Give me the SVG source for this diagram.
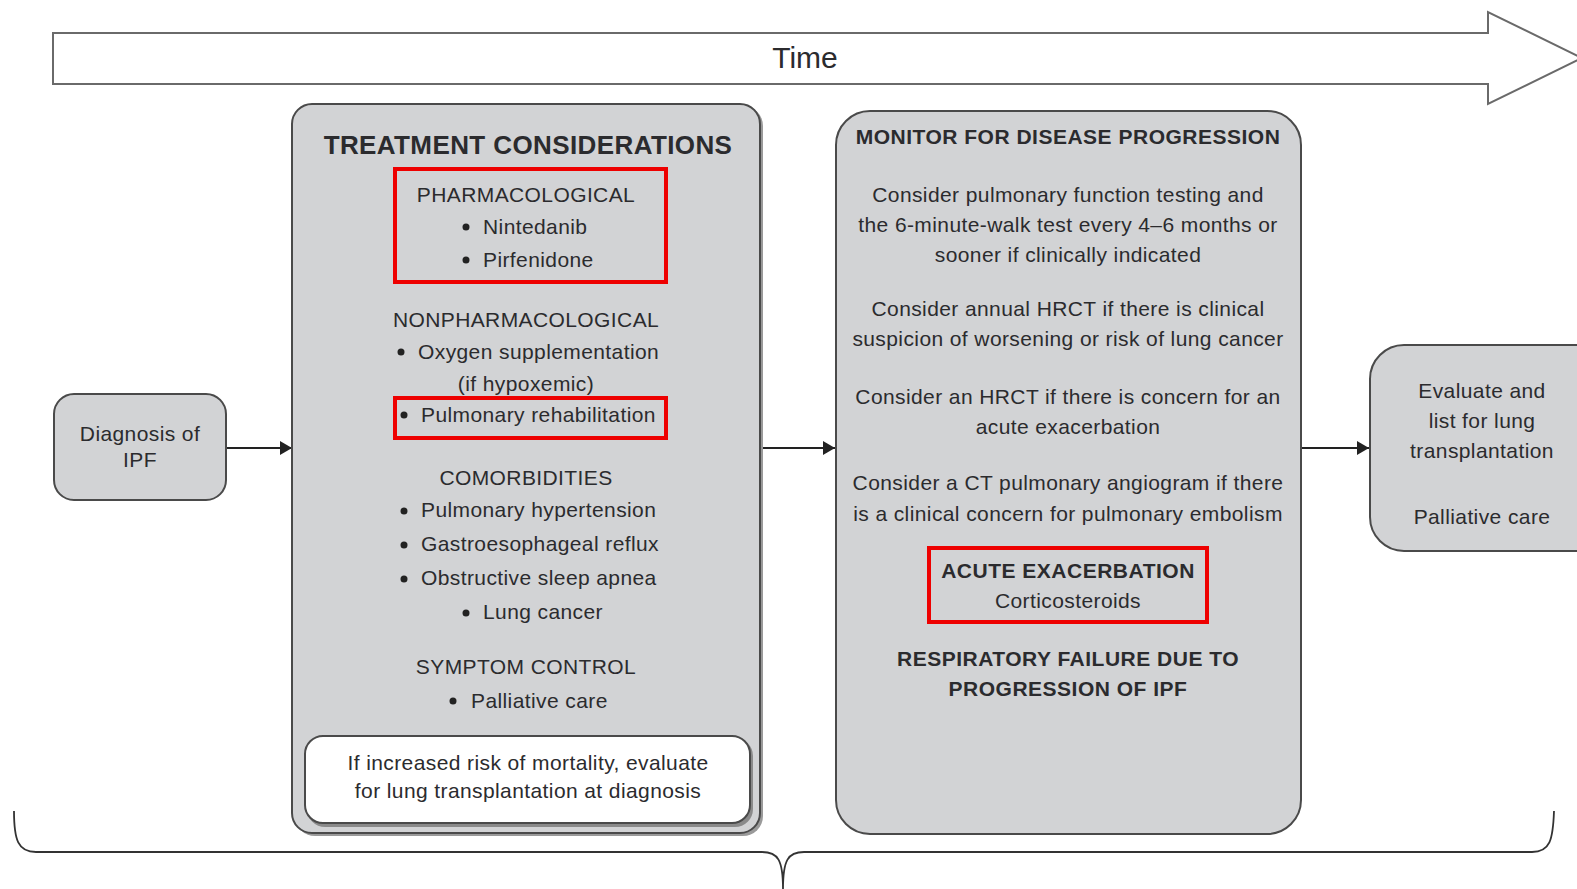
<svg xmlns="http://www.w3.org/2000/svg" width="1577" height="889" viewBox="0 0 1577 889">
  <defs>
    <marker id="arrow" viewBox="0 0 12 14" refX="12" refY="7" markerWidth="12" markerHeight="14" markerUnits="userSpaceOnUse" orient="auto">
      <path d="M0,0 L12,7 L0,14 z" fill="#222"/>
    </marker>
    <style>
      .box { fill: #d2d3d5; stroke: #4a4a4a; stroke-width: 2; }
      .shadow { fill: #9a9a9a; stroke: none; }
      .hl { fill: none; stroke: #ee0000; stroke-width: 4; }
      text { font-family: "Liberation Sans", Arial, sans-serif; fill: #2b2b2e; }
      .t { font-size: 21px; letter-spacing: 0.4px; text-anchor: middle; }
      .l { font-size: 21px; letter-spacing: 0.4px; }
      .h { font-size: 26px; letter-spacing: 0.4px; font-weight: bold; text-anchor: middle; }
      .hb { font-size: 21px; letter-spacing: 0.5px; font-weight: bold; text-anchor: middle; }
      .conn { stroke: #222; stroke-width: 2; fill: none; }
      .dot { fill: #222; }
    </style>
  </defs>
  <rect width="1577" height="889" fill="#ffffff"/>

  <!-- time axis -->
  <g id="time">
    <path d="M53,33 L1488,33 L1488,12 L1582,58 L1488,104 L1488,84 L53,84 Z" fill="#ffffff" stroke="#6a6a6a" stroke-width="2"/>
    <text x="805" y="68" font-size="30" text-anchor="middle">Time</text>
  </g>

  <!-- connectors -->
  <g id="connectors">
    <line class="conn" x1="226" y1="448" x2="292" y2="448" marker-end="url(#arrow)"/>
    <line class="conn" x1="761" y1="448" x2="835" y2="448" marker-end="url(#arrow)"/>
    <line class="conn" x1="1301" y1="448" x2="1369" y2="448" marker-end="url(#arrow)"/>
  </g>

  <!-- diagnosis -->
  <g id="diagnosis">
    <rect class="box" x="54" y="394" width="172" height="106" rx="20"/>
    <text class="t" x="140" y="441">Diagnosis of</text>
    <text class="t" x="140" y="467">IPF</text>
  </g>

  <!-- treatment considerations -->
  <g id="treatment">
    <rect class="shadow" x="295" y="106" width="468" height="730" rx="20"/>
    <rect class="box" x="292" y="104" width="468" height="729" rx="20"/>
    <text class="h" x="528" y="154">TREATMENT CONSIDERATIONS</text>

    <rect class="hl" x="395" y="169" width="271" height="113"/>
    <text class="t" x="526" y="202">PHARMACOLOGICAL</text>
    <circle class="dot" cx="466" cy="227" r="3.5"/>
    <text class="l" x="483" y="234">Nintedanib</text>
    <circle class="dot" cx="466" cy="260" r="3.5"/>
    <text class="l" x="483" y="267">Pirfenidone</text>

    <text class="t" x="526" y="327">NONPHARMACOLOGICAL</text>
    <circle class="dot" cx="401" cy="352" r="3.5"/>
    <text class="l" x="418" y="359">Oxygen supplementation</text>
    <text class="t" x="526" y="391">(if hypoxemic)</text>
    <rect class="hl" x="395" y="398" width="271" height="40"/>
    <circle class="dot" cx="404" cy="415" r="3.5"/>
    <text class="l" x="421" y="422">Pulmonary rehabilitation</text>

    <text class="t" x="526" y="485">COMORBIDITIES</text>
    <circle class="dot" cx="404" cy="511" r="3.5"/>
    <text class="l" x="421" y="517">Pulmonary hypertension</text>
    <circle class="dot" cx="404" cy="545" r="3.5"/>
    <text class="l" x="421" y="551">Gastroesophageal reflux</text>
    <circle class="dot" cx="404" cy="579" r="3.5"/>
    <text class="l" x="421" y="585">Obstructive sleep apnea</text>
    <circle class="dot" cx="466" cy="613" r="3.5"/>
    <text class="l" x="483" y="619">Lung cancer</text>

    <text class="t" x="526" y="674">SYMPTOM CONTROL</text>
    <circle class="dot" cx="453" cy="701" r="3.5"/>
    <text class="l" x="471" y="708">Palliative care</text>

    <rect x="307" y="738" width="446" height="89" rx="18" fill="#8a8a8a"/>
    <rect x="305" y="736" width="445" height="87" rx="18" fill="#ffffff" stroke="#4a4a4a" stroke-width="2"/>
    <text class="t" x="528" y="770">If increased risk of mortality, evaluate</text>
    <text class="t" x="528" y="798">for lung transplantation at diagnosis</text>
  </g>

  <!-- monitoring -->
  <g id="monitor">
    <rect class="box" x="836" y="111" width="465" height="723" rx="34"/>
    <text class="hb" x="1068" y="144">MONITOR FOR DISEASE PROGRESSION</text>
    <text class="t" x="1068" y="202">Consider pulmonary function testing and</text>
    <text class="t" x="1068" y="232">the 6-minute-walk test every 4–6 months or</text>
    <text class="t" x="1068" y="262">sooner if clinically indicated</text>
    <text class="t" x="1068" y="316">Consider annual HRCT if there is clinical</text>
    <text class="t" x="1068" y="346">suspicion of worsening or risk of lung cancer</text>
    <text class="t" x="1068" y="404">Consider an HRCT if there is concern for an</text>
    <text class="t" x="1068" y="434">acute exacerbation</text>
    <text class="t" x="1068" y="490">Consider a CT pulmonary angiogram if there</text>
    <text class="t" x="1068" y="521">is a clinical concern for pulmonary embolism</text>
    <rect class="hl" x="929" y="548" width="278" height="74"/>
    <text class="hb" x="1068" y="578">ACUTE EXACERBATION</text>
    <text class="t" x="1068" y="608">Corticosteroids</text>
    <text class="hb" x="1068" y="666">RESPIRATORY FAILURE DUE TO</text>
    <text class="hb" x="1068" y="696">PROGRESSION OF IPF</text>
  </g>

  <!-- end of course -->
  <g id="endstage">
    <rect class="box" x="1370" y="345" width="240" height="206" rx="34"/>
    <text class="t" x="1482" y="398">Evaluate and</text>
    <text class="t" x="1482" y="428">list for lung</text>
    <text class="t" x="1482" y="458">transplantation</text>
    <text class="t" x="1482" y="524">Palliative care</text>
  </g>

  <!-- brace spanning the whole course -->
  <g id="brace">
    <path d="M14,811 C14,840 18,852 36,852 L762,852 C778,852 783,860 783,889 C783,860 788,852 804,852 L1532,852 C1550,852 1553,840 1554,811" fill="none" stroke="#333" stroke-width="1.8"/>
  </g>
</svg>
